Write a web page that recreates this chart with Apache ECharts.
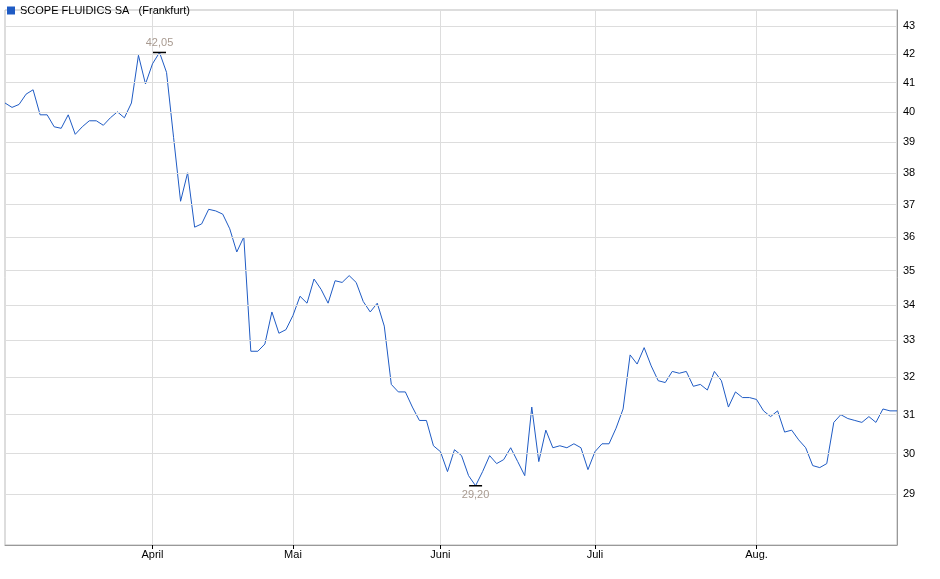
<!DOCTYPE html>
<html>
<head>
<meta charset="utf-8">
<script src="https://cdn.jsdelivr.net/npm/echarts@6/dist/echarts.min.js"></script>
<style>
  html, body { margin: 0; padding: 0; background: #fff; }
  #chart { width: 940px; height: 579px; }
</style>
</head>
<body>
<div id="chart"></div>
<script>
// Kursverlauf (Frankfurt), ein Wert pro Handelstag
var prices = [
  40.3, 40.15, 40.25, 40.6, 40.75, 39.9, 39.9, 39.5, 39.45, 39.9,
  39.25, 39.5, 39.7, 39.7, 39.55, 39.8, 40.0, 39.8, 40.3, 41.95,
  40.95, 41.65, 42.05, 41.35, 39.15, 37.1, 38.0, 36.3, 36.4, 36.85,
  36.8, 36.7, 36.25, 35.55, 36.0, 32.7, 32.7, 32.9, 33.8, 33.2,
  33.3, 33.7, 34.25, 34.05, 34.75, 34.45, 34.05, 34.7, 34.65, 34.85,
  34.65, 34.1, 33.8, 34.05, 33.4, 31.8, 31.6, 31.6, 31.2, 30.85,
  30.85, 30.2, 30.05, 29.55, 30.1, 29.95, 29.45, 29.2, 29.55, 29.95,
  29.75, 29.85, 30.15, 29.8, 29.45, 31.2, 29.8, 30.6, 30.15, 30.2,
  30.15, 30.25, 30.15, 29.6, 30.05, 30.25, 30.25, 30.65, 31.15, 32.6,
  32.35, 32.8, 32.3, 31.9, 31.85, 32.15, 32.1, 32.15, 31.75, 31.8,
  31.65, 32.15, 31.9, 31.2, 31.6, 31.45, 31.45, 31.4, 31.1, 30.95,
  31.1, 30.55, 30.6, 30.35, 30.15, 29.7, 29.65, 29.75, 30.8, 31.0,
  30.9, 30.85, 30.8, 30.95, 30.8, 31.15, 31.1, 31.1
];
var monthNames = ["April", "Mai", "Juni", "Juli", "Aug."];
var monthIndex = [21, 41, 62, 84, 107];
var yTicks = [29, 30, 31, 32, 33, 34, 35, 36, 37, 38, 39, 40, 41, 42, 43];
var yMin = 27.78, yMax = 43.58; // logarithmische Skala

// log-Transformation, skaliert damit markLine nicht rundet
var lg = function (v) { return Math.round(Math.log(v) * 100000); };

var cats = prices.map(function (v, i) {
  var k = monthIndex.indexOf(i);
  return k >= 0 ? monthNames[k] : "";
});
var isMonth = function (i) { return monthIndex.indexOf(i) >= 0; };

var hiIdx = prices.indexOf(Math.max.apply(null, prices));
var loIdx = prices.indexOf(Math.min.apply(null, prices));
var fmt = function (v) { return v.toFixed(2).replace(".", ","); };

var chart = echarts.init(document.getElementById("chart"));
var option = {
  animation: false,
  textStyle: { fontFamily: "Liberation Sans, Arial, sans-serif" },
  legend: {
    left: 2, top: 0, itemWidth: 8, itemHeight: 8, itemGap: 4,
    icon: "rect",
    textStyle: { fontSize: 11, color: "#000" },
    data: ["SCOPE FLUIDICS SA   (Frankfurt)"]
  },
  grid: {
    left: 5, right: 43, top: 10, bottom: 34,
    show: true, borderColor: "#bbb", borderWidth: 1
  },
  xAxis: {
    type: "category", data: cats, boundaryGap: false,
    axisLine: { lineStyle: { color: "#999" } },
    axisTick: { interval: function (i) { return isMonth(i); }, length: 4, lineStyle: { color: "#000" } },
    axisLabel: { interval: function (i) { return isMonth(i); }, color: "#000", fontSize: 11, margin: 4 },
    splitLine: { show: true, interval: function (i) { return isMonth(i); }, lineStyle: { color: "#ddd" } }
  },
  yAxis: {
    type: "value", position: "right",
    min: lg(yMin), max: lg(yMax),
    axisLine: { show: true, lineStyle: { color: "#999" } },
    axisTick: { show: false }, axisLabel: { show: false }, splitLine: { show: false }
  },
  series: [{
    name: "SCOPE FLUIDICS SA   (Frankfurt)",
    type: "line", symbol: "none",
    data: prices.map(lg),
    itemStyle: { color: "#1f5bc4" },
    lineStyle: { color: "#1f5bc4", width: 1 },
    markLine: {
      silent: true, symbol: "none", animation: false, precision: 0,
      lineStyle: { color: "#ddd", type: "solid", width: 1 },
      label: { position: "end", distance: 6, color: "#000", fontSize: 11 },
      data: yTicks.map(function (t) {
        return { yAxis: lg(t), label: { formatter: String(t) } };
      })
    },
    markPoint: {
      symbol: "rect", symbolSize: [13, 1.5],
      itemStyle: { color: "#000" },
      data: [
        { coord: [hiIdx, lg(prices[hiIdx])],
          label: { formatter: fmt(prices[hiIdx]), position: "top", distance: 3, color: "#a89a90", fontSize: 11 } },
        { coord: [loIdx, lg(prices[loIdx])],
          label: { formatter: fmt(prices[loIdx]), position: "bottom", distance: 3, color: "#a89a90", fontSize: 11 } }
      ]
    }
  }]
};
chart.setOption(option);
</script>
</body>
</html>
